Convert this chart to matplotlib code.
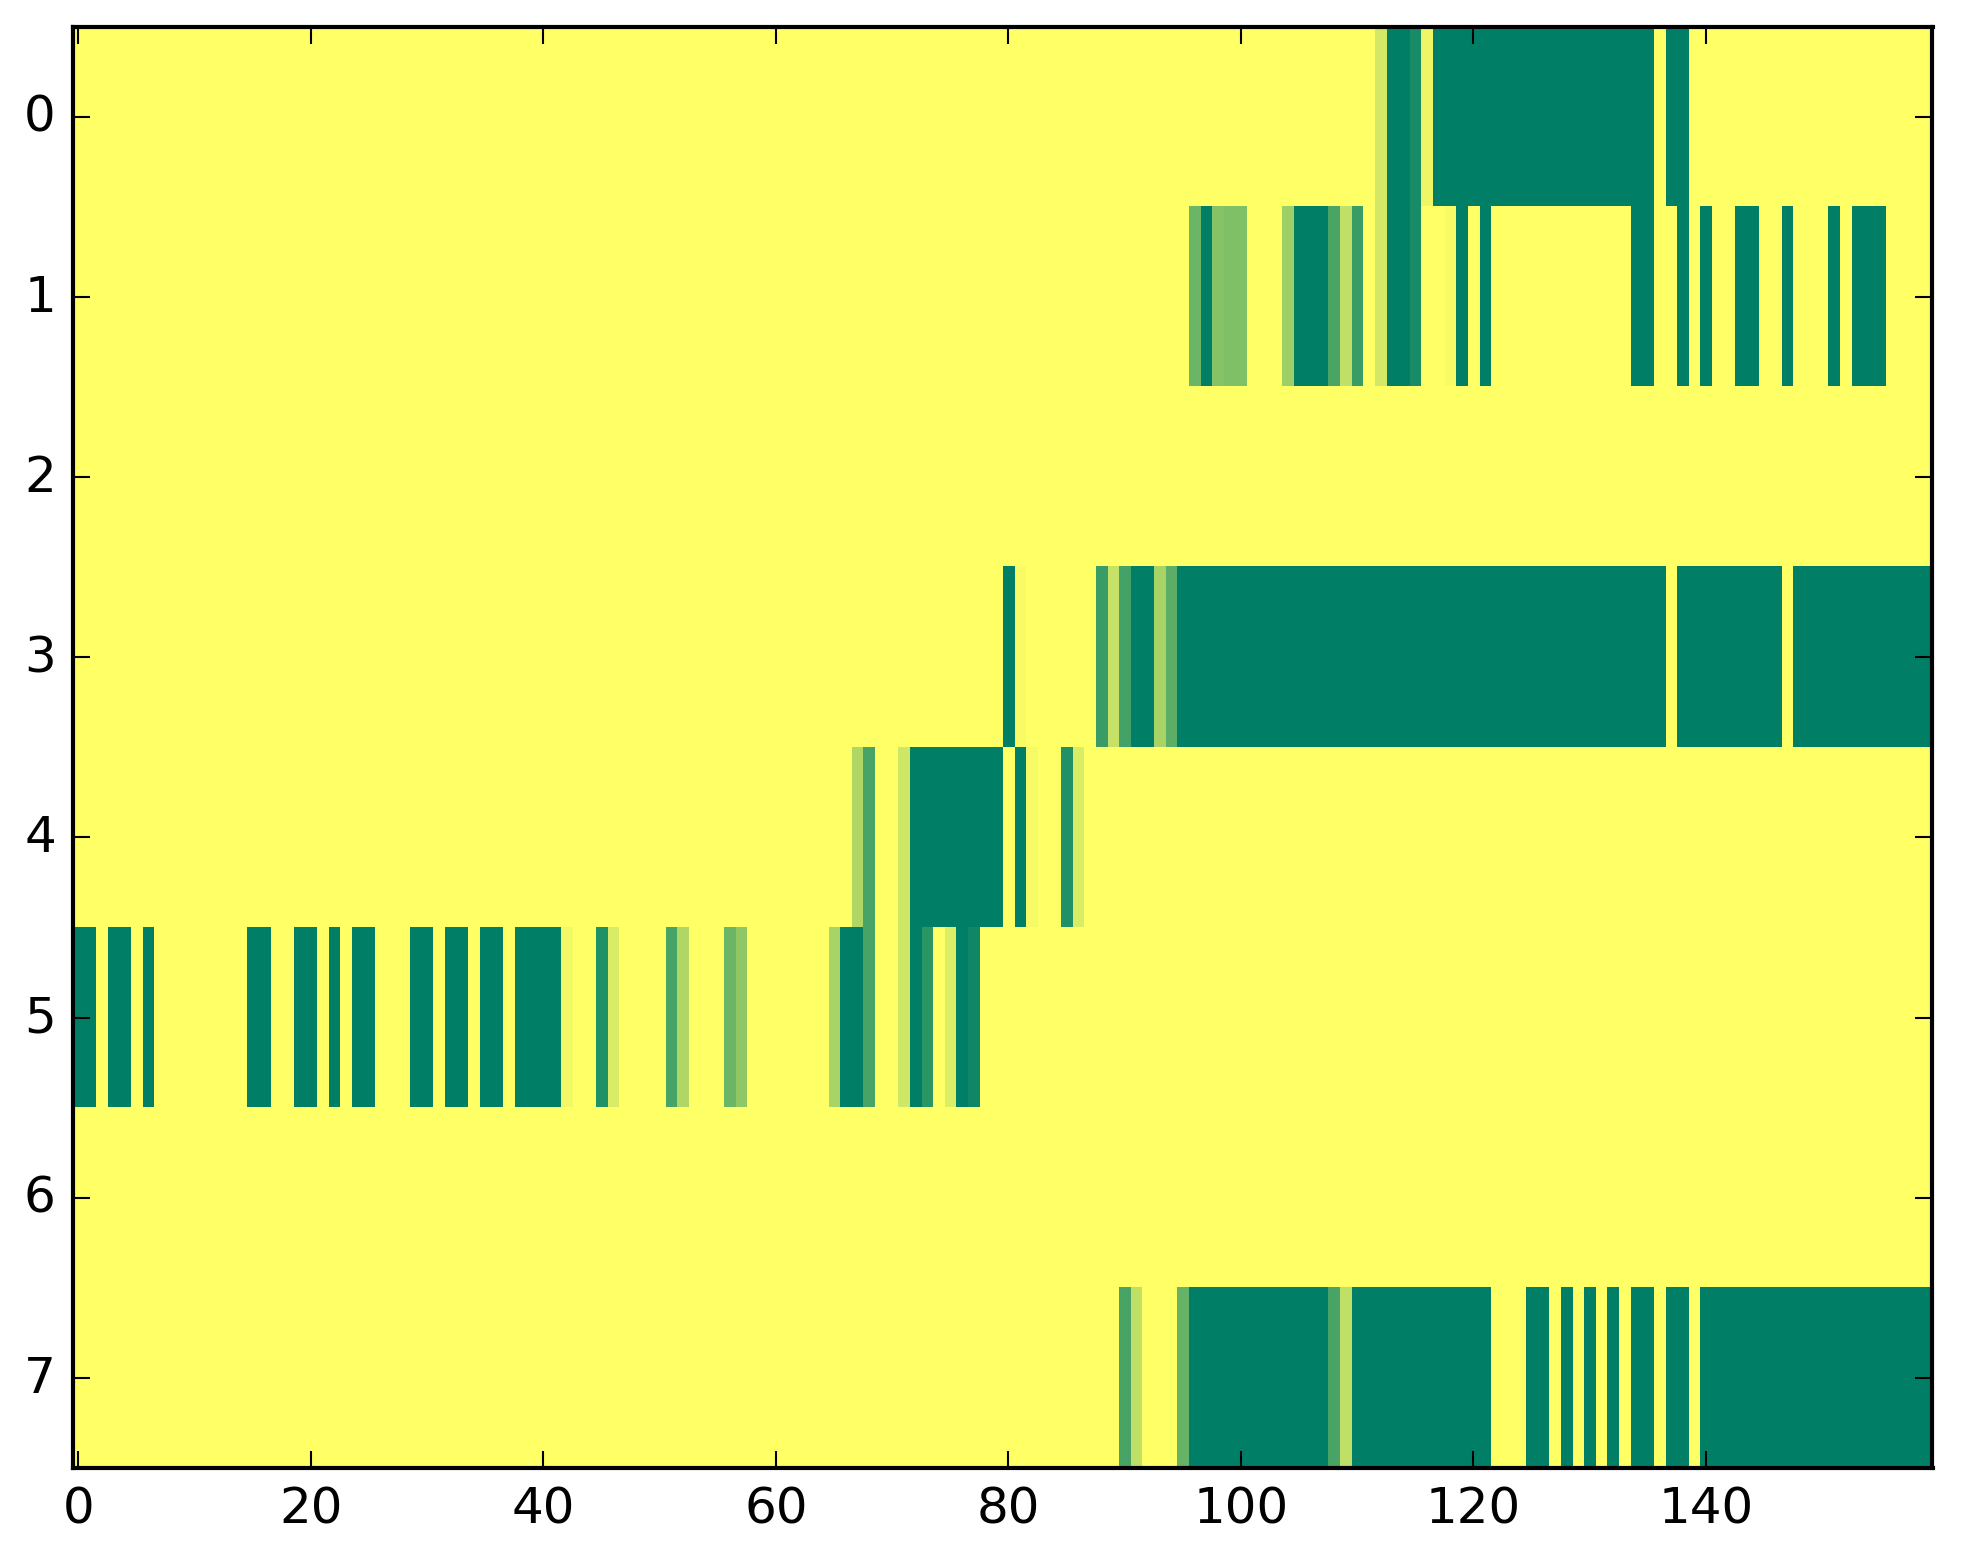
import numpy as np
import matplotlib
matplotlib.use("Agg")
import matplotlib.pyplot as plt

n_rows = 8
n_cols = 160

# non-zero cells per row: (first_col, last_col, value)
row0 = [(112, 112, 0.17), (113, 114, 1.0), (115, 115, 0.9), (116, 116, 0.07),
        (117, 135, 1.0), (137, 138, 1.0)]
row1 = [(96, 96, 0.58), (97, 97, 1.0), (98, 98, 0.47), (99, 100, 0.5),
        (104, 104, 0.38), (105, 107, 1.0), (108, 108, 0.71), (109, 109, 0.25),
        (110, 110, 0.77), (112, 112, 0.17), (113, 114, 1.0), (115, 115, 0.9),
        (118, 118, 0.035), (119, 119, 1.0), (121, 121, 1.0), (134, 135, 1.0),
        (138, 138, 1.0), (140, 140, 1.0), (143, 144, 1.0), (147, 147, 1.0),
        (151, 151, 1.0), (153, 155, 1.0)]
row2 = []
row3 = [(80, 80, 1.0), (81, 81, 0.03), (88, 88, 0.77), (89, 89, 0.23),
        (90, 90, 0.73), (91, 92, 1.0), (93, 93, 0.34), (94, 94, 0.64),
        (95, 136, 1.0), (138, 146, 1.0), (148, 159, 1.0)]
row4 = [(67, 67, 0.31), (68, 68, 0.72), (71, 71, 0.19), (72, 79, 1.0),
        (81, 81, 1.0), (82, 82, 0.04), (85, 85, 0.87), (86, 86, 0.15)]
row5 = [(0, 1, 1.0), (3, 4, 1.0), (6, 6, 1.0), (15, 16, 1.0), (19, 20, 1.0),
        (22, 22, 1.0), (24, 25, 1.0), (29, 30, 1.0), (32, 33, 1.0),
        (35, 36, 1.0), (38, 41, 1.0), (42, 42, 0.05), (45, 45, 0.87),
        (46, 46, 0.15), (51, 51, 0.72), (52, 52, 0.31), (56, 56, 0.58),
        (57, 57, 0.44), (65, 65, 0.34), (66, 67, 1.0), (68, 68, 0.72),
        (71, 71, 0.19), (72, 72, 1.0), (73, 73, 0.83), (75, 75, 0.14),
        (76, 76, 1.0), (77, 77, 0.94)]
row6 = []
row7 = [(90, 90, 0.72), (91, 91, 0.25), (95, 95, 0.6), (96, 107, 1.0),
        (108, 108, 0.72), (109, 109, 0.25), (110, 121, 1.0), (125, 126, 1.0),
        (128, 128, 1.0), (130, 130, 1.0), (132, 132, 1.0), (134, 135, 1.0),
        (137, 138, 1.0), (140, 159, 1.0)]

rows = [row0, row1, row2, row3, row4, row5, row6, row7]

M = np.zeros((n_rows, n_cols))
for r, segs in enumerate(rows):
    for a, b, v in segs:
        M[r, a:b + 1] = v

plt.style.use("classic")

W, H = 1963, 1564
fig = plt.figure(figsize=(W / 300, H / 300), dpi=300, facecolor="white")
ax = fig.add_axes([72.5 / W, 95 / H, 1860 / W, 1441.5 / H])
ax.imshow(M, cmap="summer_r", vmin=0, vmax=1, interpolation="nearest",
          aspect="auto")
ax.set_xticks(np.arange(0, 160, 20))
ax.set_yticks(np.arange(0, 8))
ax.tick_params(labelsize=12)

fig.savefig("out.png", dpi=300, facecolor="white")
